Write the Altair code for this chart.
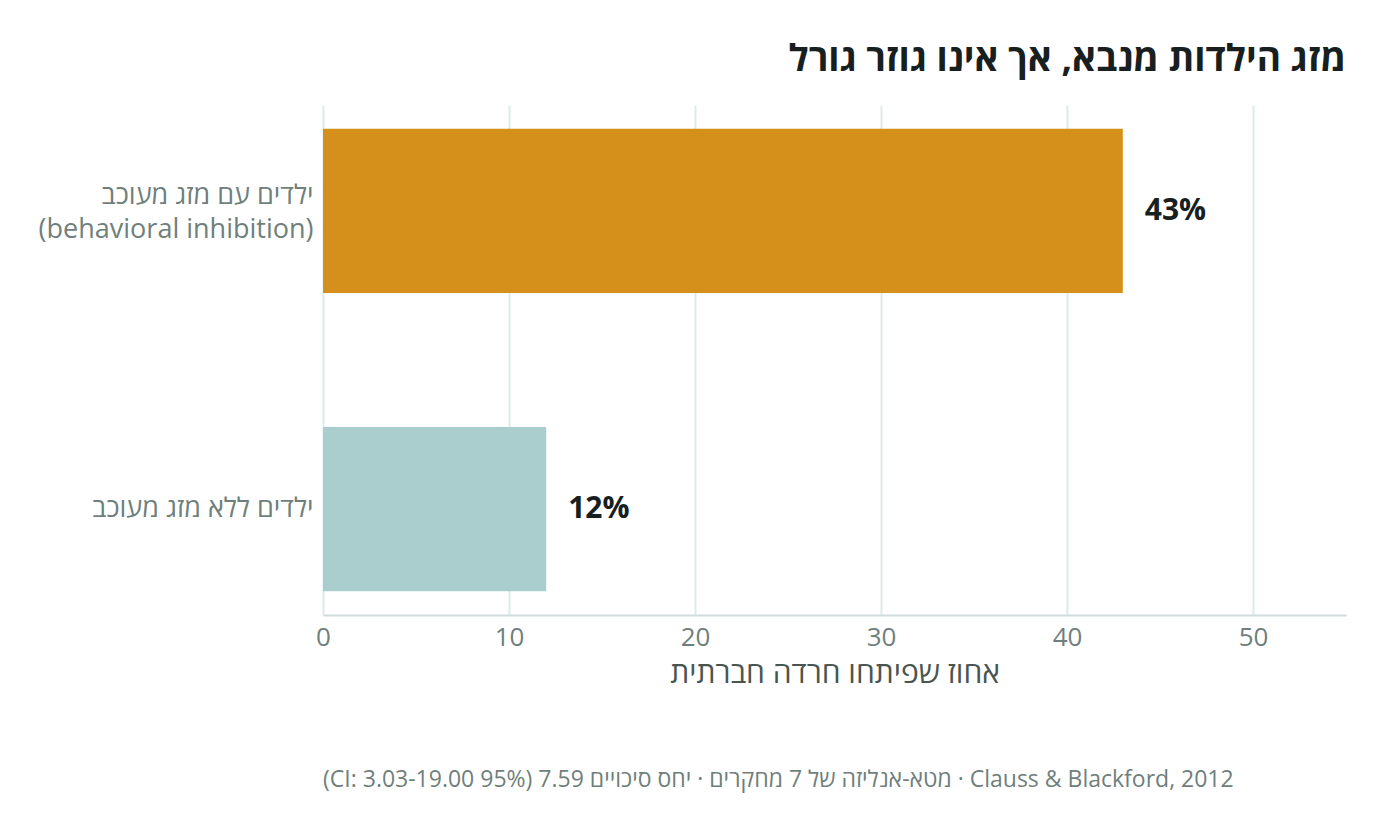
import altair as alt
import pandas as pd

categories = ["ילדים עם מזג מעוכב|(behavioral inhibition)", "ילדים ללא מזג מעוכב"]
values = [43, 12]
labels = ["43%", "12%"]
colors = ["#d4901b", "#a9cecd"]

title_text = "מזג הילדות מנבא, אך אינו גוזר גורל"
x_title = "אחוז שפיתחו חרדה חברתית"
footer_text = "\u202bClauss & Blackford, 2012 · מטא-אנליזה של 7 מחקרים · יחס סיכויים 7.59 (95% CI: 3.03-19.00)\u202c"

df = pd.DataFrame({"cat": categories, "val": values, "label": labels, "color": colors})
foot = pd.DataFrame({"t": [footer_text]})

FONT = "Open Sans"

y_enc = alt.Y("cat:N", sort=categories, title=None,
              scale=alt.Scale(paddingInner=0.45, paddingOuter=0.08),
              axis=alt.Axis(labelExpr="split(datum.label, '|')", labelFontSize=27,
                            labelColor="#6f7f7c", labelFont=FONT, labelLineHeight=34,
                            labelOffset={"condition": {"test": "indexof(datum.value, '|') >= 0", "value": -15}, "value": 0},
                            ticks=False, domain=False, labelPadding=10, labelLimit=400))

x_enc = alt.X("val:Q", title=x_title,
              scale=alt.Scale(domain=[0, 55], nice=False),
              axis=alt.Axis(values=[0, 10, 20, 30, 40, 50], labelFontSize=26, labelFlush=False,
                            labelColor="#6f7f7c", labelFont=FONT, titleFont=FONT,
                            titleFontSize=30, titleColor="#4a5552", titleFontWeight="normal",
                            ticks=False, domainColor="#cfdcdc", domainWidth=2,
                            gridColor="#e0e9e9", gridWidth=2, labelPadding=9, titlePadding=8))

bars = alt.Chart(df).mark_bar().encode(
    x=x_enc, y=y_enc,
    color=alt.Color("color:N", scale=None, legend=None),
)

text = alt.Chart(df).mark_text(align="left", baseline="middle", dx=22, fontSize=30,
                               fontWeight="bold", color="#17201f", font=FONT).encode(
    x="val:Q", y=alt.Y("cat:N", sort=categories), text="label:N")

footer = alt.Chart(foot).mark_text(align="left", baseline="middle", fontSize=23,
                                   color="#6f7f7c", font=FONT).encode(
    x=alt.value(0), y=alt.value(675), text="t:N")

chart = alt.layer(bars, text, footer).properties(
    width=1023, height=510,
    autosize=alt.AutoSizeParams(type="none"),
    padding={"left": 315, "top": 97, "right": 30, "bottom": 210},
    title=alt.TitleParams(title_text, anchor="end", fontSize=37, fontWeight="bold",
                          color="#17201f", font=FONT, offset=26),
).configure_view(stroke=None)

chart.save("out.html", embed_options={"renderer": "svg", "actions": False})
